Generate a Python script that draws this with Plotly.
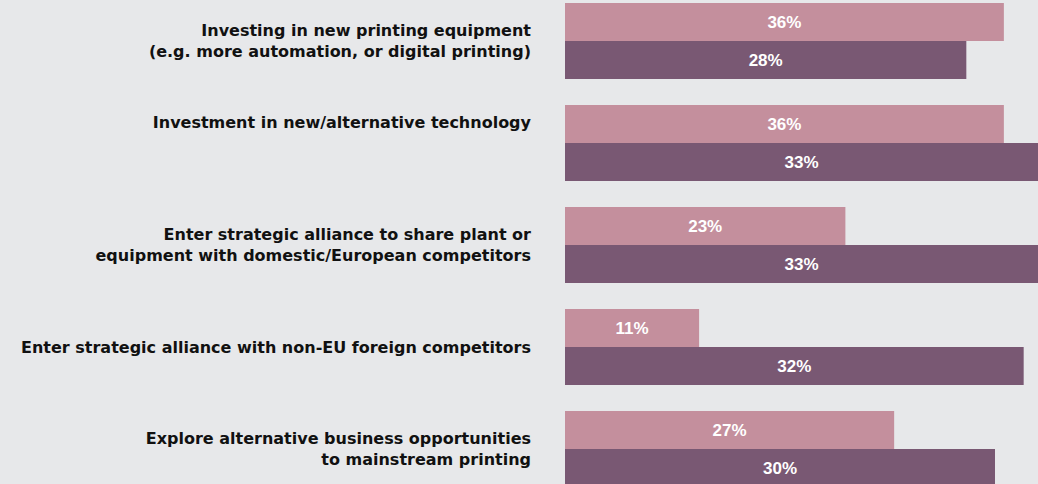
import plotly.graph_objects as go

categories = [
    "Investing in new printing equipment<br>(e.g. more automation, or digital printing)",
    "Investment in new/alternative technology<br>\u00a0<br>\u00a0",
    "Enter strategic alliance to share plant or<br>equipment with domestic/European competitors",
    "Enter strategic alliance with non-EU foreign competitors",
    "Explore alternative business opportunities<br>to mainstream printing",
]
series_a = [36, 36, 23, 11, 27]   # pink (top bar of each pair)
series_b = [28, 33, 33, 32, 30]   # purple (bottom bar of each pair)
labels_a = [f"{v}%" for v in series_a]
labels_b = [f"{v}%" for v in series_b]

PINK = "#C48F9D"
PURPLE = "#795873"
BG = "#E7E8EA"

pos = list(range(len(categories)))
bar_w = 38 / 102

fig = go.Figure()
fig.add_trace(go.Bar(
    y=pos, x=series_a, orientation="h", xaxis="x", yaxis="y",
    width=bar_w, offset=-bar_w, marker=dict(color=PINK, line=dict(width=0)),
    text=labels_a, textposition="inside", insidetextanchor="middle", textangle=0,
    textfont=dict(family="Liberation Sans", size=17, color="white", weight="bold"),
    showlegend=False, hoverinfo="skip",
))
fig.add_trace(go.Bar(
    y=pos, x=series_b, orientation="h", xaxis="x2", yaxis="y",
    width=bar_w, offset=0, marker=dict(color=PURPLE, line=dict(width=0)),
    text=labels_b, textposition="inside", insidetextanchor="middle", textangle=0,
    textfont=dict(family="Liberation Sans", size=17, color="white", weight="bold"),
    showlegend=False, hoverinfo="skip",
))

fig.update_layout(
    width=1038, height=484,
    margin=dict(l=565, r=0, t=0, b=0, pad=0),
    paper_bgcolor=BG, plot_bgcolor=BG,
    barmode="overlay",
    xaxis=dict(range=[0, 38.8], visible=False, showgrid=False, zeroline=False, fixedrange=True),
    xaxis2=dict(range=[0, 33.0], overlaying="x", visible=False, showgrid=False,
                zeroline=False, fixedrange=True),
    yaxis=dict(
        range=[4.343, -0.402], tickmode="array", tickvals=pos, ticktext=categories,
        showgrid=False, zeroline=False, showline=False, ticks="",
        ticklabelstandoff=33,
        tickfont=dict(family="DejaVu Sans", size=16, color="#111111", weight="bold"),
        fixedrange=True,
    ),
)

fig.write_html(
    "out.html",
    config={"displayModeBar": False},
    post_script="document.body.style.margin='0';document.body.style.background='#E7E8EA';",
)
